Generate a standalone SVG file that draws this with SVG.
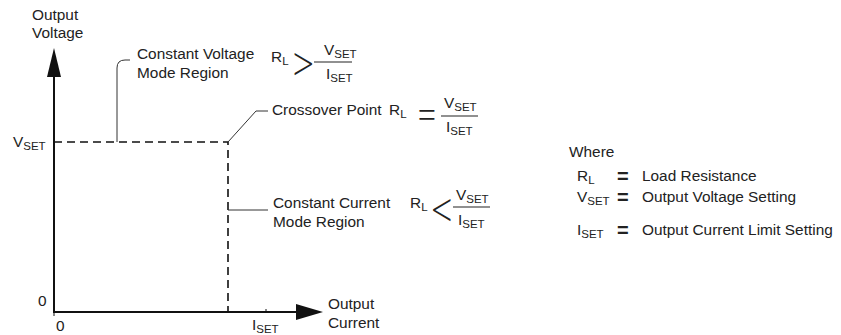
<svg xmlns="http://www.w3.org/2000/svg" width="841" height="335" viewBox="0 0 841 335">
<style>
text{font-family:"Liberation Sans",Arial,sans-serif;font-size:15.4px;fill:#222}
.sub{font-size:11.5px}
.big{font-family:Inter,"Liberation Sans",sans-serif;font-weight:200;font-size:42px}
.eqb{font-family:Inter,"Liberation Sans",sans-serif;font-weight:200;font-size:40px}
.eq{font-size:20px;font-weight:bold}
.axis{stroke:#111;stroke-width:2;fill:none}
.dash{stroke:#111;stroke-width:1.6;stroke-dasharray:8 5;fill:none}
.lead{stroke:#333;stroke-width:1;fill:none}
.bar{stroke:#222;stroke-width:1.2}
</style>
<rect width="841" height="335" fill="#fff"/>
<g id="axes">
<line class="axis" x1="54" y1="312" x2="54" y2="70"/>
<polygon points="54,48 47,77 61,77" fill="#111"/>
<line class="axis" x1="53" y1="312" x2="300" y2="312"/>
<polygon points="323,312 296,304 296,320" fill="#111"/>
<line x1="266" y1="309" x2="266" y2="312" stroke="#111" stroke-width="1"/>
<line x1="54" y1="312" x2="54" y2="316" stroke="#111" stroke-width="1"/>
<text x="32" y="20">Output</text>
<text x="32" y="38">Voltage</text>
<text x="328" y="309">Output</text>
<text x="328" y="328">Current</text>
<text x="13" y="147">V<tspan class="sub" dy="3">SET</tspan></text>
<text x="38" y="306">0</text>
<text x="56" y="331">0</text>
<text x="252" y="330">I<tspan class="sub" dy="3">SET</tspan></text>
</g>
<g id="connectors">
<path class="dash" d="M54,142 H228 V312"/>
<path class="lead" d="M117,142 V68 Q117,60 125,60 H130"/>
<path class="lead" d="M228,142 L256,111 H268"/>
<path class="lead" d="M228,210 H268"/>
</g>
<g id="cv-region">
<text x="137" y="59">Constant Voltage</text>
<text x="137" y="78">Mode Region</text>
<text x="271" y="62">R<tspan class="sub" dy="3">L</tspan></text>
<text class="big" x="289" y="76">&gt;</text>
<line class="bar" x1="314" y1="62" x2="352" y2="62"/>
<text x="324" y="55">V<tspan class="sub" dy="3">SET</tspan></text>
<text x="326" y="79">I<tspan class="sub" dy="3">SET</tspan></text>
</g>
<g id="crossover">
<text x="272" y="115">Crossover Point</text>
<text x="389" y="115">R<tspan class="sub" dy="3">L</tspan></text>
<text class="eqb" x="414" y="126">=</text>
<line class="bar" x1="441" y1="116" x2="478" y2="116"/>
<text x="444" y="108">V<tspan class="sub" dy="3">SET</tspan></text>
<text x="446" y="132">I<tspan class="sub" dy="3">SET</tspan></text>
</g>
<g id="cc-region">
<text x="273" y="208">Constant Current</text>
<text x="273" y="227">Mode Region</text>
<text x="410" y="208">R<tspan class="sub" dy="3">L</tspan></text>
<text class="big" x="429" y="222">&lt;</text>
<line class="bar" x1="453" y1="207" x2="490" y2="207"/>
<text x="456" y="200">V<tspan class="sub" dy="3">SET</tspan></text>
<text x="458" y="225">I<tspan class="sub" dy="3">SET</tspan></text>
</g>
<g id="legend">
<text x="569" y="157">Where</text>
<text x="577" y="181">R<tspan class="sub" dy="3">L</tspan></text>
<text class="eq" x="617" y="183">=</text>
<text x="642" y="181">Load Resistance</text>
<text x="577" y="202">V<tspan class="sub" dy="3">SET</tspan></text>
<text class="eq" x="617" y="204">=</text>
<text x="642" y="202">Output Voltage Setting</text>
<text x="577" y="235">I<tspan class="sub" dy="3">SET</tspan></text>
<text class="eq" x="617" y="237">=</text>
<text x="642" y="235">Output Current Limit Setting</text>
</g>
</svg>
